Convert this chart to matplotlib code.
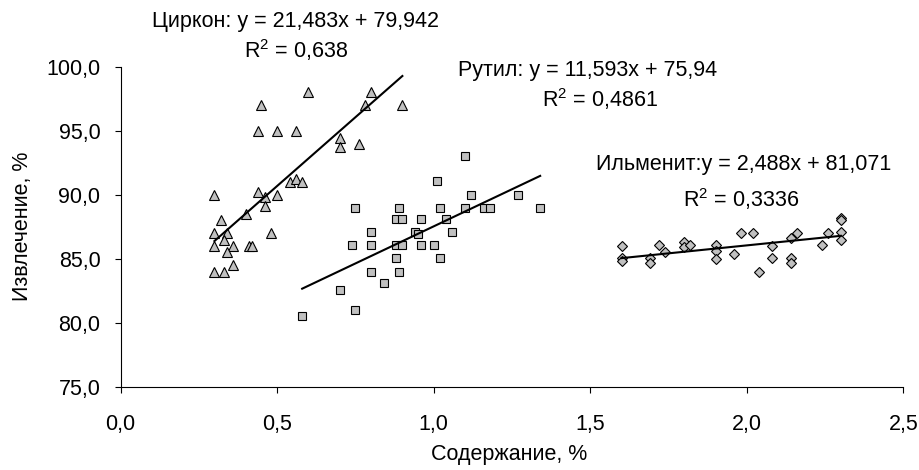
import numpy as np
import matplotlib.pyplot as plt
from matplotlib.ticker import FuncFormatter, MultipleLocator

plt.rcParams['font.family'] = ['Liberation Sans', 'DejaVu Sans']
plt.rcParams['mathtext.fontset'] = 'custom'
plt.rcParams['mathtext.rm'] = 'Liberation Sans'
plt.rcParams['mathtext.default'] = 'regular'

# Циркон
zircon_x = [0.6, 0.45, 0.8, 0.78, 0.9, 0.44, 0.5, 0.56, 0.7, 0.7, 0.76,
            0.54, 0.56, 0.58, 0.3, 0.44, 0.46, 0.5, 0.46, 0.4, 0.32, 0.3,
            0.34, 0.48, 0.33, 0.3, 0.36, 0.41, 0.42, 0.34, 0.36, 0.3, 0.33]
zircon_y = [98.0, 97.0, 98.0, 97.0, 97.0, 95.0, 95.0, 95.0, 94.4, 93.7, 94.0,
            91.0, 91.2, 91.0, 90.0, 90.2, 89.8, 90.0, 89.1, 88.5, 88.0, 87.0,
            87.0, 87.0, 86.5, 86.0, 86.0, 86.0, 86.0, 85.5, 84.5, 84.0, 84.0]

# Рутил
rutile_x = [1.1, 1.01, 1.12, 1.27, 0.75, 0.89, 1.02, 1.1, 1.16, 1.18, 1.34,
            0.88, 0.9, 0.96, 1.04, 0.8, 0.94, 0.95, 1.06, 0.74, 0.8, 0.88,
            0.9, 0.96, 1.0, 0.88, 1.02, 0.8, 0.89, 0.84, 0.7, 0.75, 0.58]
rutile_y = [93.0, 91.1, 90.0, 90.0, 89.0, 89.0, 89.0, 89.0, 89.0, 89.0, 89.0,
            88.1, 88.1, 88.1, 88.1, 87.1, 87.1, 86.9, 87.1, 86.1, 86.1, 86.1,
            86.1, 86.1, 86.1, 85.1, 85.1, 84.0, 84.0, 83.1, 82.6, 81.0, 80.5]

# Ильменит
ilmenite_x = [1.6, 1.6, 1.6, 1.69, 1.69, 1.72, 1.74, 1.8, 1.8, 1.82, 1.9,
              1.9, 1.9, 1.96, 1.98, 2.02, 2.04, 2.08, 2.08, 2.14, 2.14, 2.14,
              2.16, 2.24, 2.26, 2.3, 2.3, 2.3, 2.3]
ilmenite_y = [86.0, 85.1, 84.8, 85.1, 84.7, 86.1, 85.5, 86.3, 85.9, 86.1, 86.1,
              85.6, 85.0, 85.4, 87.0, 87.0, 84.0, 86.0, 85.1, 86.6, 85.1, 84.7,
              87.0, 86.1, 87.0, 88.2, 88.0, 87.1, 86.5]

# trend line coefficients (slope, intercept)
trend_zircon = (21.483, 79.942)
trend_rutile = (11.593, 75.94)
trend_ilmenite = (2.488, 81.071)

# equation labels (text, x, baseline y) in data units
labels = [
    ('Циркон: y = 21,483x + 79,942', 0.56, 103.1),
    ('R$^2$ = 0,638', 0.56, 100.68),
    ('Рутил: y = 11,593x + 75,94', 1.4925, 99.27),
    ('R$^2$ = 0,4861', 1.531, 96.85),
    ('Ильменит:y = 2,488x + 81,071', 1.991, 91.93),
    ('R$^2$ = 0,3336', 1.98, 89.04),
]

fs = 15.5

fig = plt.figure(figsize=(9.2, 4.7), dpi=100)
ax = fig.add_axes([0.131, 0.177, 0.851, 0.681])

face = '#c0c0c0'
ax.plot(zircon_x, zircon_y, '^', ms=7.4, mfc=face, mec='black', mew=0.8, ls='none', zorder=2)
ax.plot(rutile_x, rutile_y, 's', ms=6.4, mfc=face, mec='black', mew=0.8, ls='none', zorder=2)
ax.plot(ilmenite_x, ilmenite_y, 'D', ms=4.8, mfc=face, mec='black', mew=0.8, ls='none', zorder=2)

for xs, (k, b) in [(zircon_x, trend_zircon), (rutile_x, trend_rutile),
                   (ilmenite_x, trend_ilmenite)]:
    lx = np.array([min(xs), max(xs)])
    ax.plot(lx, k * lx + b, color='black', lw=1.5, zorder=3)

for txt, tx, ty in labels:
    ax.text(tx, ty, txt, ha='center', va='baseline', fontsize=fs, clip_on=False)

ax.set_xlim(0, 2.5)
ax.set_ylim(75, 100)
ax.xaxis.set_major_locator(MultipleLocator(0.5))
ax.yaxis.set_major_locator(MultipleLocator(5))
comma = FuncFormatter(lambda v, p: f'{v:.1f}'.replace('.', ','))
ax.xaxis.set_major_formatter(comma)
ax.yaxis.set_major_formatter(comma)
ax.tick_params(direction='out', length=4.5, width=0.8, labelsize=fs)
ax.tick_params(axis='x', pad=15)
ax.tick_params(axis='y', pad=10)
ax.spines['top'].set_visible(False)
ax.spines['right'].set_visible(False)
ax.set_xlabel('Содержание, %', fontsize=fs)
ax.set_ylabel('Извлечение, %', fontsize=fs)
ax.xaxis.set_label_coords(0.496, -0.178)
ax.yaxis.set_label_coords(-0.112, 0.5)

fig.savefig('out.png', dpi=100)
